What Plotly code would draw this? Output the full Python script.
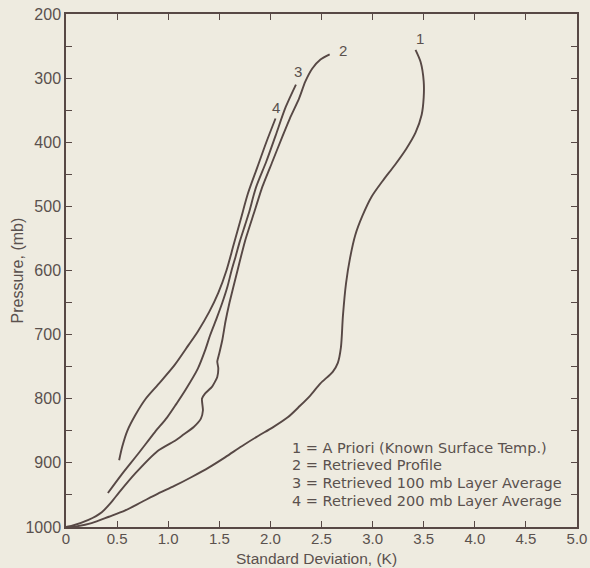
import plotly.graph_objects as go

# Curve 1: A Priori (Known Surface Temp.)
c1_sd = [3.42, 3.47, 3.50, 3.50, 3.48, 3.42, 3.33, 3.22, 3.10, 2.99, 2.90, 2.83, 2.78, 2.74, 2.71, 2.69,
         2.66, 2.61, 2.49, 2.39, 2.29, 2.17, 2.02, 1.88, 1.72, 1.56, 1.40, 1.23, 1.06, 0.90, 0.74, 0.58,
         0.42, 0.25, 0.10, 0.0]
c1_p = [256, 275, 305, 330, 357, 385, 410, 435, 460, 485, 515, 545, 580, 620, 670, 720,
        744, 758, 776, 795, 811, 829, 845, 858, 874, 891, 907, 922, 936, 948, 961, 974,
        984, 994, 999, 1000]

# Curve 2: Retrieved Profile
c2_sd = [2.58, 2.49, 2.41, 2.34, 2.28, 2.19, 2.12, 2.02, 1.92, 1.84, 1.75, 1.67, 1.60, 1.56, 1.53, 1.50,
         1.48, 1.49, 1.48, 1.43, 1.36, 1.33, 1.34, 1.32, 1.25, 1.14, 1.07, 0.90, 0.68, 0.52, 0.44, 0.35,
         0.22, 0.06, 0.0]
c2_p = [263, 271, 285, 306, 332, 363, 390, 430, 470, 510, 555, 605, 650, 680, 708, 729,
        742, 752, 766, 781, 792, 800, 818, 831, 844, 857, 865, 881, 916, 946, 962, 977,
        989, 998, 1000]

# Curve 3: Retrieved 100 mb Layer Average
c3_sd = [2.25, 2.15, 2.05, 1.96, 1.86, 1.79, 1.75, 1.70, 1.66, 1.62, 1.58, 1.53, 1.48, 1.41, 1.36,
         1.29, 1.17, 1.08, 0.99, 0.87, 0.71, 0.54, 0.41]
c3_p = [310, 345, 390, 430, 470, 510, 530, 555, 578, 600, 625, 650, 672, 701, 725,
        753, 786, 808, 829, 852, 885, 919, 947]

# Curve 4: Retrieved 200 mb Layer Average
c4_sd = [2.05, 1.96, 1.87, 1.78, 1.71, 1.64, 1.57, 1.49, 1.40, 1.29, 1.20, 1.06, 0.90, 0.78, 0.68,
         0.60, 0.55, 0.52]
c4_p = [363, 400, 440, 480, 520, 560, 600, 635, 665, 695, 716, 748, 778, 800, 825,
        850, 875, 896]

curve_labels = ["1", "2", "3", "4"]
label_sd = [3.46, 2.71, 2.27, 2.05]
label_p = [238, 257, 290, 346]

legend_lines = ["1 = A Priori (Known Surface Temp.)", "2 = Retrieved Profile",
                "3 = Retrieved 100 mb Layer Average", "4 = Retrieved 200 mb Layer Average"]
legend_p = [877, 904, 931, 959]

x_ticks = [0, 0.5, 1.0, 1.5, 2.0, 2.5, 3.0, 3.5, 4.0, 4.5, 5.0]
x_ticktext = ["0", "0.5", "1.0", "1.5", "2.0", "2.5", "3.0", "3.5", "4.0", "4.5", "5.0"]
y_ticks = [200, 300, 400, 500, 600, 700, 800, 900, 1000]

x_title = "Standard Deviation, (K)"
y_title = "Pressure, (mb)"

LINE = "#574845"
TEXT = "#5a514e"
BG = "#eeebe0"
FONT = "Liberation Sans, Arial, sans-serif"
LEGFONT = "DejaVu Sans, Liberation Sans, sans-serif"

fig = go.Figure()
series = [(c1_sd, c1_p, 0.8), (c2_sd, c2_p, 0.5), (c3_sd, c3_p, 0.8), (c4_sd, c4_p, 0.8)]
for xs, ys, sm in series:
    fig.add_trace(go.Scatter(x=xs, y=ys, mode="lines",
                             line=dict(color=LINE, width=1.9, shape="spline", smoothing=sm),
                             showlegend=False, hoverinfo="skip"))

for t, xx, yy in zip(curve_labels, label_sd, label_p):
    fig.add_annotation(x=xx, y=yy, text=t, showarrow=False,
                       font=dict(family=FONT, size=15, color=TEXT))

for t, yy in zip(legend_lines, legend_p):
    fig.add_annotation(x=2.20, y=yy, text=t, showarrow=False, xanchor="left", borderpad=0,
                       font=dict(family=LEGFONT, size=14.5, color=TEXT))

# axis titles
fig.add_annotation(xref="paper", yref="paper", x=0.49, y=0, yshift=-31, yanchor="middle",
                   text=x_title, showarrow=False, borderpad=0,
                   font=dict(family=FONT, size=15.5, color=TEXT))
fig.add_annotation(xref="paper", yref="paper", x=0, xshift=-49, y=0.5, xanchor="center",
                   text=y_title, textangle=-90, showarrow=False,
                   font=dict(family=FONT, size=16, color=TEXT))

axis_common = dict(showgrid=False, zeroline=False, showline=True, linecolor=LINE, linewidth=1.5,
                   mirror="ticks", ticks="inside", ticklen=6, tickcolor=LINE, tickwidth=1.2,
                   automargin=False)

fig.update_xaxes(range=[0, 5], tickvals=x_ticks, ticktext=x_ticktext,
                 ticklabelstandoff=-3,
                 tickfont=dict(family=FONT, size=15, color=TEXT),
                 minor=dict(dtick=0.5, ticks="inside", ticklen=6, tickcolor=LINE, tickwidth=1.2),
                 **axis_common)
fig.update_yaxes(range=[1000, 200], tickvals=y_ticks,
                 tickfont=dict(family=FONT, size=16, color=TEXT),
                 minor=dict(dtick=50, ticks="inside", ticklen=6, tickcolor=LINE, tickwidth=1.2),
                 **axis_common)

fig.update_layout(width=590, height=568, margin=dict(l=66, r=13, t=14, b=41),
                  paper_bgcolor=BG, plot_bgcolor=BG)

fig.write_html("out.html")
